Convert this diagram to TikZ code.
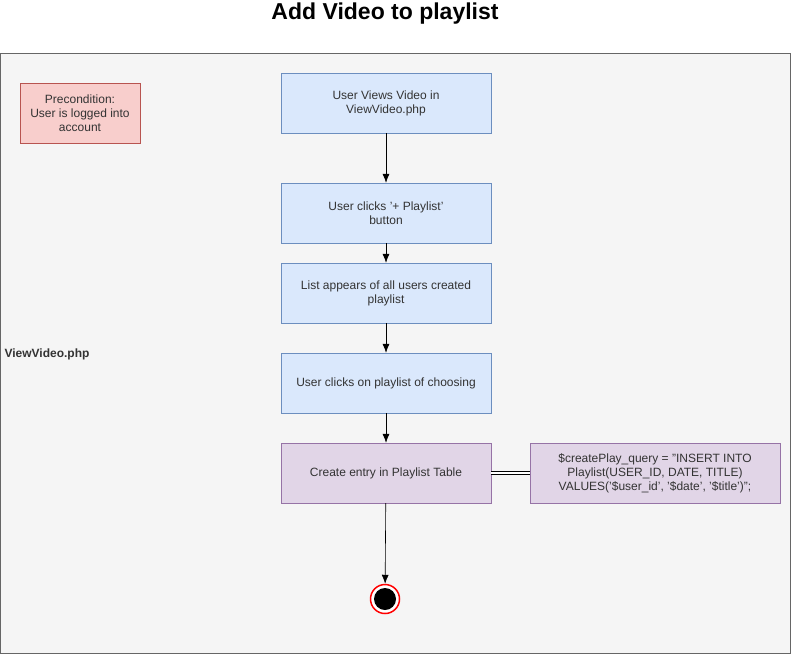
\documentclass[tikz,border=0pt]{standalone}
\usepackage{fontspec}
\setmainfont{Liberation Sans}
\usepackage{xcolor}
\usetikzlibrary{positioning,calc,arrows.meta}
\definecolor{bgfill}{HTML}{F5F5F5}
\definecolor{bgline}{HTML}{666666}
\definecolor{bluefill}{HTML}{DAE8FC}
\definecolor{blueline}{HTML}{6C8EBF}
\definecolor{redfill}{HTML}{F8CECC}
\definecolor{redline}{HTML}{B85450}
\definecolor{purplefill}{HTML}{E1D5E7}
\definecolor{purpleline}{HTML}{9673A6}
\definecolor{txt}{HTML}{333333}
\tikzset{
	actbox/.style={draw=blueline,fill=bluefill,minimum width=210pt,minimum height=60pt,align=center,font=\fontsize{12pt}{14pt}\selectfont,text=txt},
	dbbox/.style={actbox,draw=purpleline,fill=purplefill},
	notebox/.style={actbox,draw=redline,fill=redfill,minimum width=120pt},
	flow/.style={-{Latex[length=9pt,width=7pt]},semithick,black}
}
\begin{document}
\begin{tikzpicture}[x=1pt,y=-1pt]
		\useasboundingbox (0,0) rectangle (791,654);
		\draw[bgline,fill=bgfill] (0.5,53.5) rectangle (790.5,653.5);
		\node (title) at (385,14) {\fontsize{23pt}{27pt}\selectfont\bfseries Add Video to playlist};
		\node[anchor=west,text=txt,font=\fontsize{12pt}{14pt}\selectfont\bfseries] (lane) at (1,354) {ViewVideo.php};
		\node[notebox] (pre) at (80,113) {Precondition:\\User is logged into\\account};
		\node[actbox] (view) at (386,103) {User Views Video in\\ ViewVideo.php};
		\node[actbox] (click) at (386,213) {User clicks '+ Playlist'\\ button};
		\node[actbox] (list) at (386,293) {List appears of all users created\\playlist};
		\node[actbox] (choose) at (386,383) {User clicks on playlist of choosing};
		\node[dbbox] (entry) at (386,473) {Create entry in Playlist Table};
		\node[dbbox,minimum width=250pt] (query) at (655,473) {\$createPlay\_query = "INSERT INTO\\Playlist(USER\_ID, DATE, TITLE)\\VALUES('\$user\_id', '\$date', '\$title')";};
		% end state
		\node[circle,draw=red,line width=1.5pt,fill=white,minimum size=29pt,inner sep=0pt] (stop) at (385,599) {};
		\fill[black] (stop.center) circle (11pt);
		\draw[flow] (view) -- (click);
		\draw[flow] (click) -- (list);
		\draw[flow] (list) -- (choose);
		\draw[flow] (choose) -- (entry);
		\draw[flow] (entry) -- (stop);
		\draw[double,thick,double distance=2pt] (entry) -- (query);
	\end{tikzpicture}
\end{document}
